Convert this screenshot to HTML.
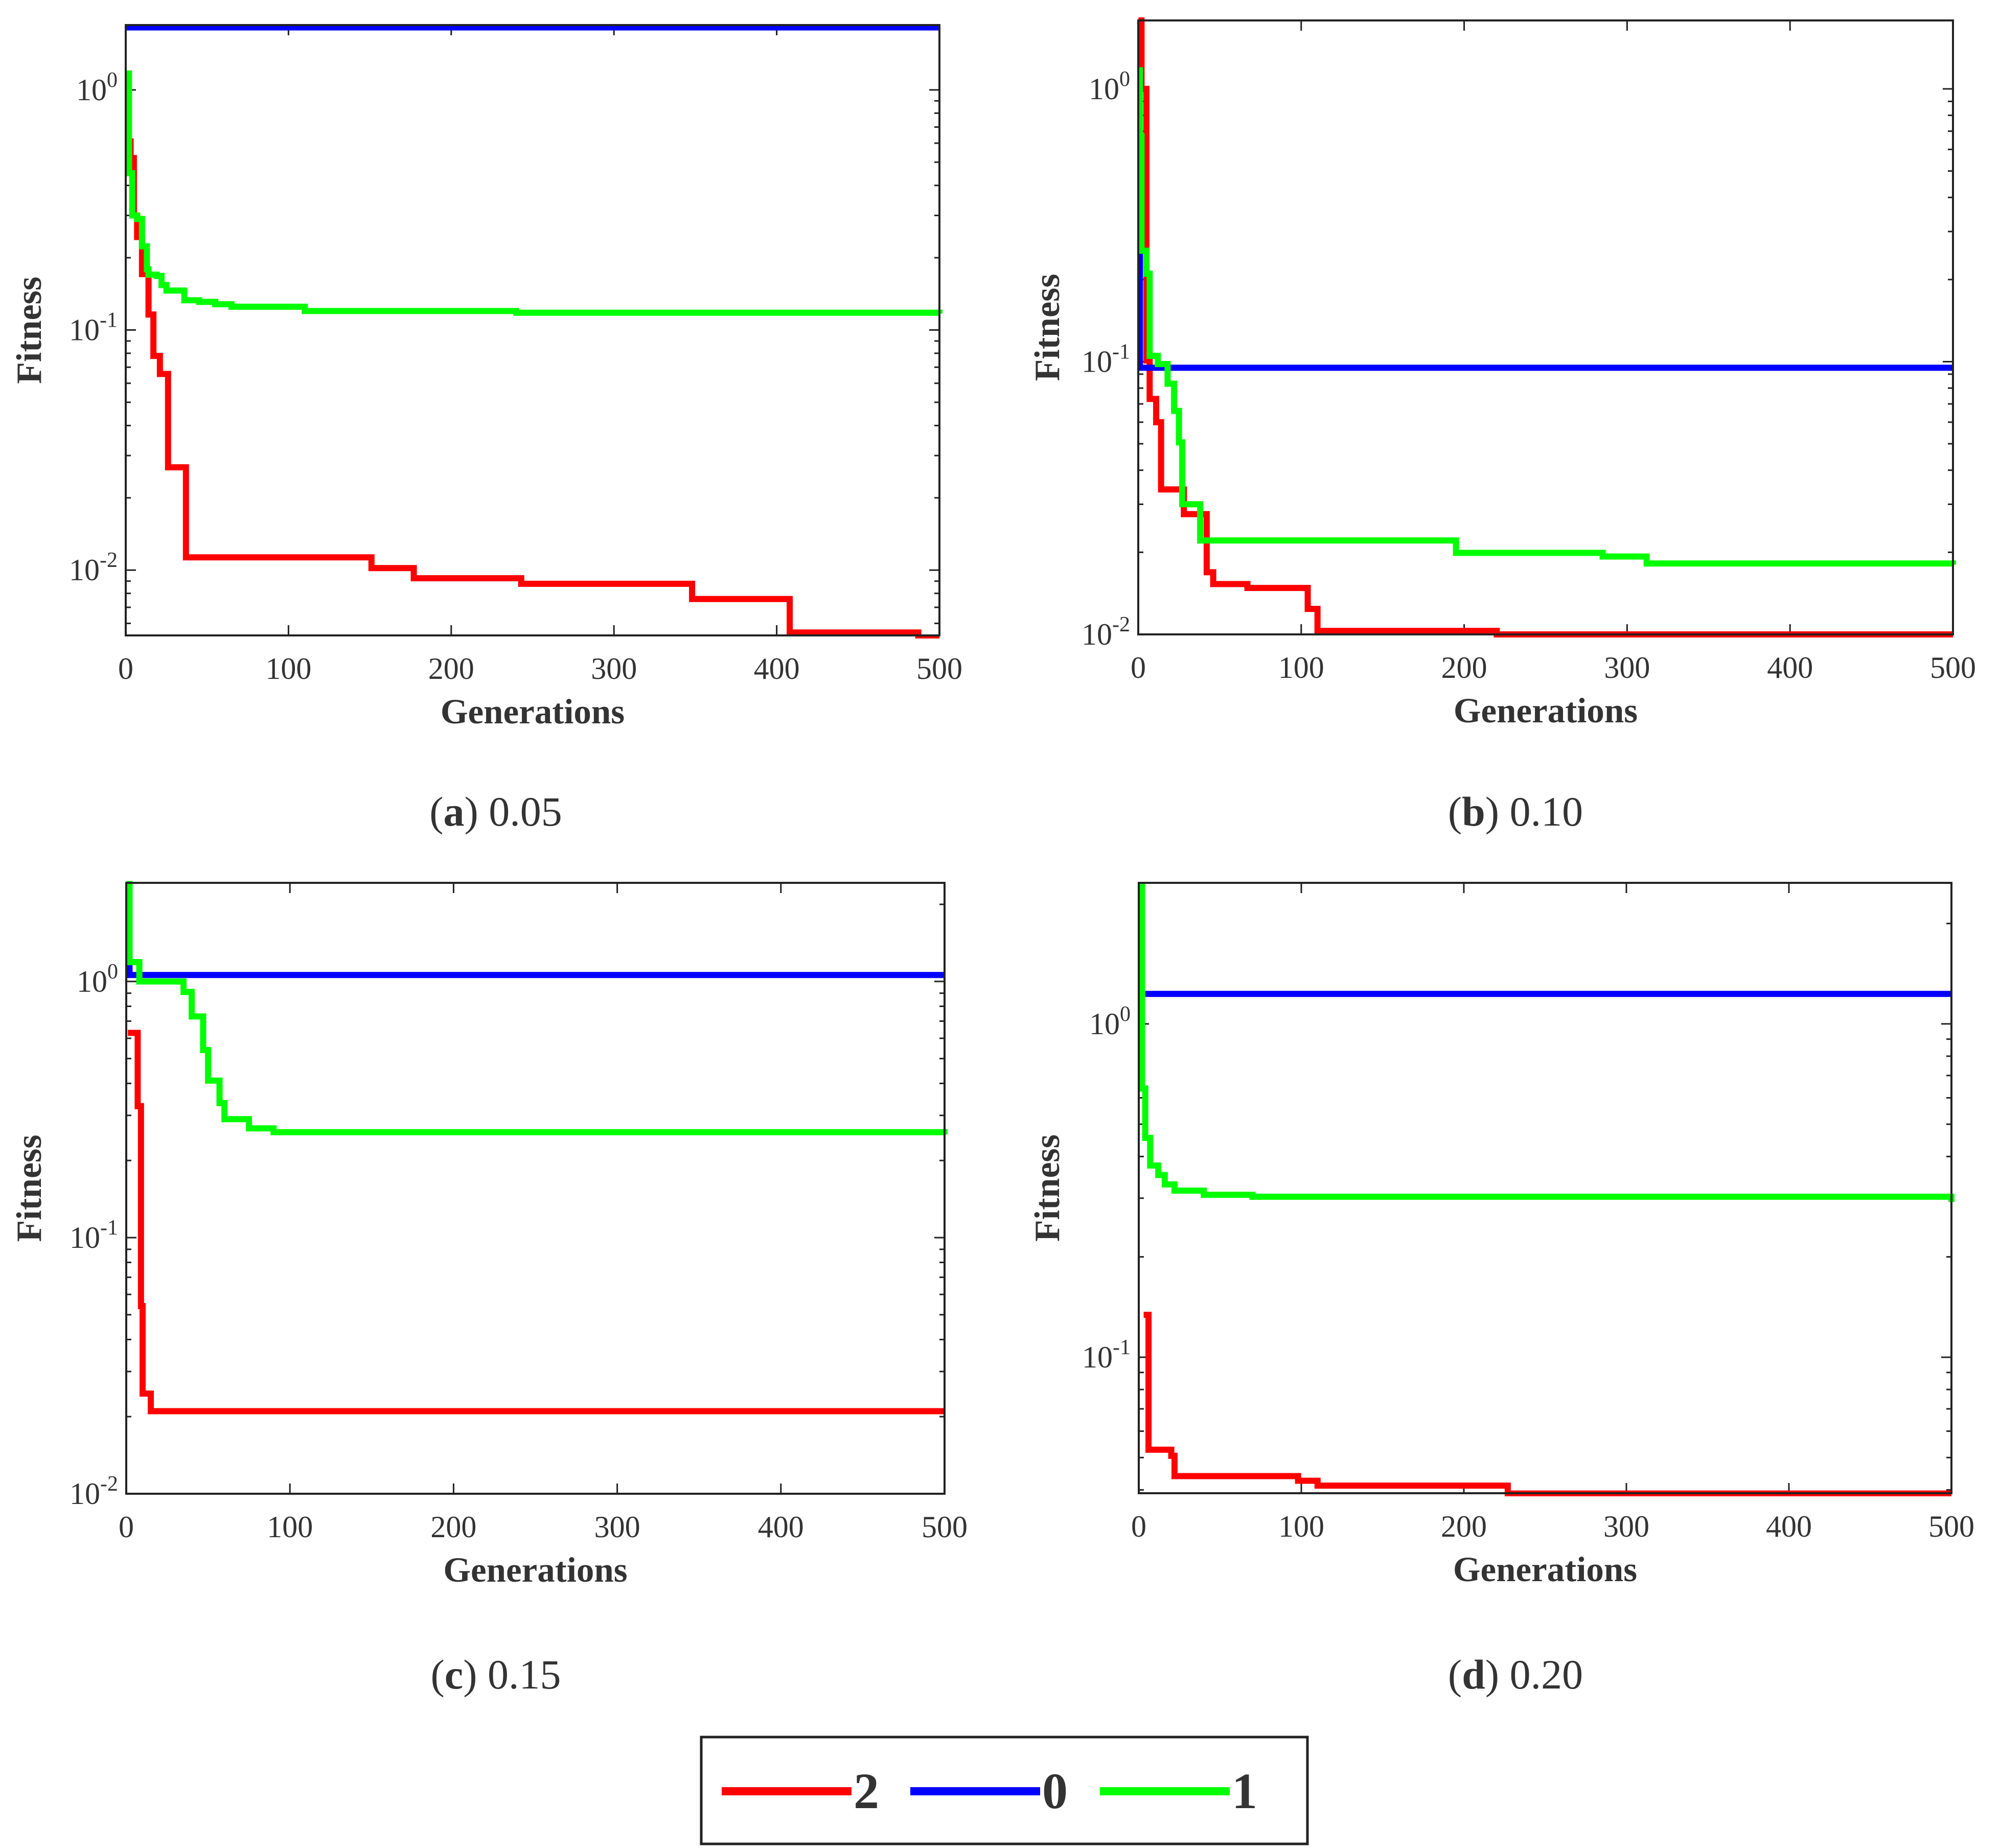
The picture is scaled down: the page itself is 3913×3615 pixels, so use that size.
<!DOCTYPE html>
<html><head><meta charset="utf-8">
<style>
html,body{margin:0;padding:0;background:#fff;}
svg{display:block;}
text{font-family:"Liberation Serif",serif;fill:#333;}
</style></head>
<body>
<svg id="fig" width="3913" height="3615" viewBox="0 0 3913 3615" xmlns="http://www.w3.org/2000/svg"></svg>
<script>
// ---- data (generation, fitness) ----
const panelLabels = ["a","b","c","d"];
const panelValues = ["0.05","0.10","0.15","0.20"];
const xTicks = [0,100,200,300,400,500];

const aRedX = [0,3,5,7,10,14,17,21,26,37,151,177,243,348,408,487,500];
const aRedY = [0.61,0.52,0.30,0.244,0.171,0.116,0.078,0.0656,0.0268,0.0113,0.0102,0.00925,0.00877,0.00758,0.0055,0.0052,0.0052];
const aGreenX = [0,2,4,7,10,13,14,19,22,25,36,45,55,65,110,240,500];
const aGreenY = [1.17,0.45,0.30,0.29,0.223,0.179,0.17,0.168,0.154,0.146,0.133,0.131,0.128,0.125,0.12,0.118,0.117];
const aBlueX = [0,500];
const aBlueY = [1.82,1.82];

const bRedX = [0,2,5,7,11,14,28,42,46,67,104,110,220,500];
const bRedY = [2.0,1.0,0.101,0.073,0.060,0.034,0.0276,0.0169,0.0153,0.0148,0.0124,0.0103,0.0100,0.0100];
const bGreenX = [0,1,2,5,7,12,18,22,25,27,38,195,285,312,500];
const bGreenY = [1.17,0.67,0.255,0.21,0.105,0.098,0.083,0.066,0.0506,0.030,0.0221,0.0199,0.0193,0.0182,0.018];
const bBlueX = [0,1,500];
const bBlueY = [0.45,0.095,0.095];

const cRedX = [1,7,9,10,15,500];
const cRedY = [0.63,0.326,0.054,0.0246,0.021,0.021];
const cGreenX = [0,2,8,35,40,47,50,57,60,75,90,500];
const cGreenY = [2.4,1.19,1.0,0.91,0.73,0.54,0.41,0.335,0.29,0.267,0.258,0.253];
const cBlueX = [0,2,500];
const cBlueY = [2.4,1.06,1.06];

const dRedX = [3,6,20,22,98,110,227,500];
const dRedY = [0.134,0.0528,0.0506,0.044,0.0426,0.0412,0.039,0.039];
const dGreenX = [0,2,4,7,12,16,22,40,70,500];
const dGreenY = [2.6,0.64,0.455,0.376,0.352,0.33,0.316,0.307,0.303,0.292];
const dBlueX = [4,500];
const dBlueY = [1.23,1.23];

const legendLabels = ["2","0","1"];
const seriesColors = ["#ff0000","#0000ff","#00ff00"];

// ---- layout ----
const panels = [
 {L:246,R:1838,T:49,B:1243,lmax:0.27,lmin:-2.272,decs:[0,-1,-2],xs:[aRedX,aBlueX,aGreenX],ys:[aRedY,aBlueY,aGreenY],cx:970,cy:1588,fx:58},
 {L:2227,R:3821,T:40,B:1241,lmax:0.251,lmin:-2,decs:[0,-1,-2],xs:[bRedX,bBlueX,bGreenX],ys:[bRedY,bBlueY,bGreenY],cx:2965,cy:1588,fx:2050},
 {L:247,R:1848,T:1727,B:2922,lmax:0.385,lmin:-2,decs:[0,-1,-2],xs:[cRedX,cBlueX,cGreenX],ys:[cRedY,cBlueY,cGreenY],cx:970,cy:3276,fx:58},
 {L:2228,R:3818,T:1727,B:2921,lmax:0.423,lmin:-1.408,decs:[0,-1],xs:[dRedX,dBlueX,dGreenX],ys:[dRedY,dBlueY,dGreenY],cx:2965,cy:3276,fx:2050}
];
const NS="http://www.w3.org/2000/svg";
const svg=document.getElementById('fig');
function mk(tag,attrs,parent){const e=document.createElementNS(NS,tag);for(const k in attrs)e.setAttribute(k,attrs[k]);(parent||svg).appendChild(e);return e;}

panels.forEach((p,i)=>{
  const g=mk('g',{});
  
  
  const xs=v=>p.L+(v-0)/500*(p.R-p.L);
  const ys=v=>p.T+(p.lmax-Math.log10(v))/(p.lmax-p.lmin)*(p.B-p.T);
  const clipId='clip'+i;
  const cp=mk('clipPath',{id:clipId},g);
  mk('rect',{x:p.L,y:p.T-6,width:p.R-p.L+6,height:p.B-p.T+12},cp);
  const tk=mk('g',{stroke:'#222','stroke-width':3},g);
  
  
  xTicks.forEach(v=>{
    const x=xs(v);
    mk('line',{x1:x,y1:p.B,x2:x,y2:p.B-20},tk);
    mk('line',{x1:x,y1:p.T,x2:x,y2:p.T+20},tk);
    const t=mk('text',{x:x,y:p.B+85,'text-anchor':'middle','font-size':60},g);
    t.textContent=v;
    
    
  });
  for(let d=Math.floor(p.lmin)-1;d<=Math.ceil(p.lmax);d++){
    for(let m=1;m<10;m++){
      const v=m*Math.pow(10,d);const lv=Math.log10(v);
      if(lv<p.lmin-1e-9||lv>p.lmax+1e-9)continue;
      const len=m===1?20:10;const y=ys(v);
      mk('line',{x1:p.L,y1:y,x2:p.L+len,y2:y},tk);
      mk('line',{x1:p.R,y1:y,x2:p.R-len,y2:y},tk);
    }
  }
  p.decs.forEach(d=>{
    const y=ys(Math.pow(10,d));
    const t=mk('text',{x:p.L-16,y:y+20,'text-anchor':'end','font-size':60},g);
    
    
    const s1=mk('tspan',{},t);s1.textContent='10';
    const s2=mk('tspan',{dy:-26,'font-size':42},t);s2.textContent=String(d);
  });
  const sg=mk('g',{'clip-path':'url(#'+clipId+')',fill:'none','stroke-width':12,'stroke-linejoin':'miter'},g);
  [0,1,2].forEach(si=>{
    const X=p.xs[si],Y=p.ys[si];
    let dstr='M'+xs(X[0])+','+ys(Y[0]);
    for(let k=1;k<X.length;k++){dstr+=' L'+xs(X[k])+','+ys(Y[k-1])+' L'+xs(X[k])+','+ys(Y[k]);}
    const path=mk('path',{d:dstr,stroke:seriesColors[si]},sg);
    
    
  });
  const fr=mk('rect',{x:p.L,y:p.T,width:p.R-p.L,height:p.B-p.T,fill:'none',stroke:'#222','stroke-width':4},g);
  
  
  const xl=mk('text',{x:(p.L+p.R)/2,y:p.B+172,'text-anchor':'middle','font-size':69,'font-weight':'bold'},g);
  xl.textContent='Generations';
  
  
  const yl=mk('text',{x:0,y:0,'text-anchor':'middle','font-size':70,'font-weight':'bold',transform:'translate('+(p.fx+22)+','+((p.T+p.B)/2)+') rotate(-90)'},g);
  yl.textContent='Fitness';
  
  
  const cap=mk('text',{x:p.cx,y:p.cy+27,'text-anchor':'middle','font-size':82},g);
  
  
  const c1=mk('tspan',{},cap);c1.textContent='(';
  const c2=mk('tspan',{'font-weight':'bold'},cap);c2.textContent=panelLabels[i];
  const c3=mk('tspan',{},cap);c3.textContent=') '+panelValues[i];
});

const lg=mk('g',{});


mk('rect',{x:1372,y:3398,width:1186,height:209,fill:'#fff',stroke:'#222','stroke-width':5},lg);
const lx=[1412,1781,2152];
legendLabels.forEach((lab,i)=>{
  const e=mk('g',{},lg);
  
  
  mk('line',{x1:lx[i],y1:3504,x2:lx[i]+254,y2:3504,stroke:seriesColors[i],'stroke-width':16},e);
  const t=mk('text',{x:lx[i]+258,y:3537,'font-size':100,'font-weight':'bold'},e);
  t.textContent=lab;
});
</script>
</body></html>
